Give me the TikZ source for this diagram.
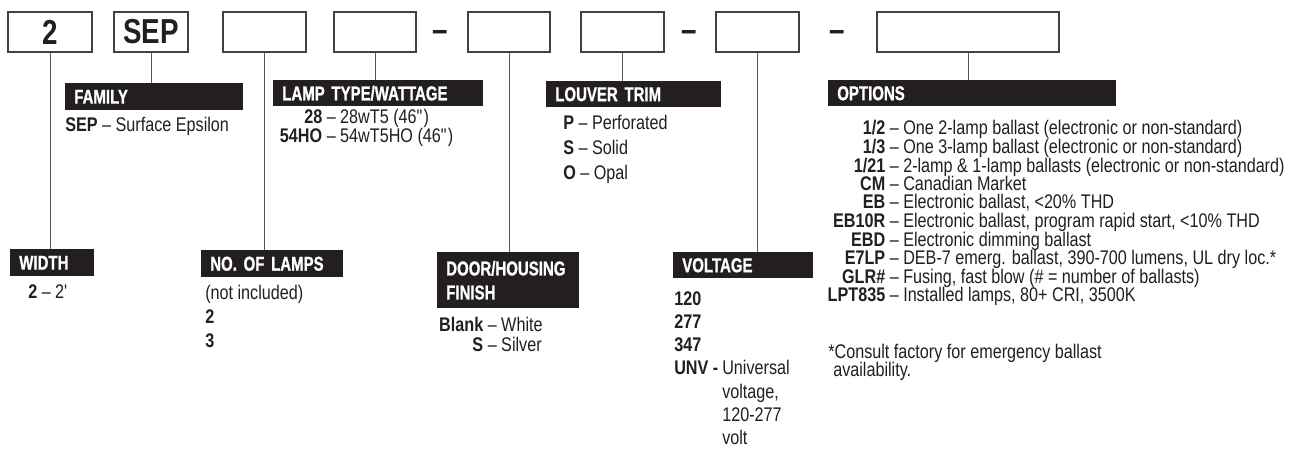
\documentclass[tikz,border=0pt]{standalone}
\usepackage{fontspec}
\setmainfont[FakeStretch=0.82]{Liberation Sans}
\newfontfamily\hdrfont[FakeStretch=0.75,FakeBold=1]{Liberation Sans}
\newfontfamily\bigfont[FakeStretch=0.8]{Liberation Sans}
\definecolor{ink}{HTML}{231F20}
\newcommand\optcode[1]{\makebox[42.75pt][r]{\bfseries #1}}
\begin{document}
\begin{tikzpicture}[x=0.75pt,y=-0.75pt,
  box/.style={draw=ink!85, line width=0.8pt, minimum height=30pt, inner sep=0pt,
    font=\bigfont\bfseries\fontsize{26}{26}\selectfont, text=ink},
  hdr/.style={fill=ink, text=white, anchor=north west, inner xsep=6.75pt, inner ysep=0pt,
    minimum height=19.5pt, align=left, font=\hdrfont\bfseries\fontsize{15}{18}\selectfont},
  txt/.style={anchor=base west, inner sep=0pt, text=ink, font=\fontsize{14.8}{14.8}\selectfont},
  link/.style={draw=ink!75, line width=0.75pt},
  dashmark/.style={anchor=base, inner sep=0pt, text=ink,
    font=\bigfont\bfseries\fontsize{26}{26}\selectfont}]
\fill[white] (0,0) rectangle (1302,449);
\useasboundingbox (0,0) rectangle (1302,449);

% top boxes
\node[box, minimum width=63pt]    (b1) at (50,32)    {2};
\node[box, minimum width=55.5pt]  (b2) at (151,32)   {SEP};
\node[box, minimum width=62.25pt] (b3) at (264.5,32) {};
\node[box, minimum width=61.5pt]  (b4) at (375,32)   {};
\node[dashmark] (d1) at (440.5,42) {–};
\node[box, minimum width=61.5pt]  (b5) at (509,32)   {};
\node[box, minimum width=62.25pt] (b6) at (622.5,32) {};
\node[dashmark] (d2) at (689.5,42) {–};
\node[box, minimum width=62.25pt] (b7) at (757.5,32) {};
\node[dashmark] (d3) at (837.5,42) {–};
\node[box, minimum width=136.5pt] (b8) at (968,32)   {};

% headers
\node[hdr, text width=49.5pt, minimum height=20.25pt] (wid) at (10,249) {WIDTH};
\node[hdr, text width=120pt, minimum height=20.25pt] (fam) at (65,83) {FAMILY};
\node[hdr, text width=93pt, minimum height=20.25pt] (nol) at (201,250) {NO. OF LAMPS};
\node[hdr, text width=144pt] (lam) at (273,80) {LAMP TYPE/WATTAGE};
\node[hdr, text width=93pt, minimum height=42pt] (door) at (437,252) {DOOR/HOUSING\\FINISH};
\node[hdr, text width=117.75pt] (lou) at (546,81) {LOUVER TRIM};
\node[hdr, text width=91.5pt] (vol) at (673,252) {VOLTAGE};
\node[hdr, text width=202.5pt] (opt) at (828,80) {OPTIONS};

% connectors
\draw[link] (b1.south) -- (b1.south |- wid.north);
\draw[link] (b2.south) -- (b2.south |- fam.north);
\draw[link] (b3.south) -- (b3.south |- nol.north);
\draw[link] (b4.south) -- (b4.south |- lam.north);
\draw[link] (b5.south) -- (b5.south |- door.north);
\draw[link] (b6.south) -- (b6.south |- lou.north);
\draw[link] (b7.south) -- (b7.south |- vol.north);
\draw[link] (b8.south) -- (b8.south |- opt.north);

% body texts
\node[txt] (w1) at (28,298) {\textbf{2} – 2\textquotesingle};
\node[txt] (f1) at (65,132) {\textbf{SEP} – Surface Epsilon};
\node[txt] (n1) at (205,299) {(not included)};
\node[txt] (n2) at (205,323) {\textbf{2}};
\node[txt] (n3) at (205,347) {\textbf{3}};
\node[txt] (l1) at (273,124) {\makebox[36.75pt][r]{\bfseries 28} – 28wT5 (46\textquotedbl)};
\node[txt] (l2) at (273,143) {\makebox[36.75pt][r]{\bfseries 54HO} – 54wT5HO (46\textquotedbl)};
\node[txt] (h1) at (442,331) {\makebox[30.75pt][r]{\bfseries Blank} – White};
\node[txt] (h2) at (442,351) {\makebox[30.75pt][r]{\bfseries S} – Silver};
\node[txt] (t1) at (563,130) {\textbf{P} – Perforated};
\node[txt] (t2) at (563,155) {\textbf{S} – Solid};
\node[txt] (t3) at (563,180) {\textbf{O} – Opal};
\node[txt] (v1) at (674,305) {\textbf{120}};
\node[txt] (v2) at (674,328) {\textbf{277}};
\node[txt] (v3) at (674,351) {\textbf{347}};
\node[txt] (v4) at (674,374.5) {\textbf{UNV -}};
\node[txt] (v5) at (722,374.5) {Universal};
\node[txt] (v6) at (722,398) {voltage,};
\node[txt] (v7) at (722,421) {120-277};
\node[txt] (v8) at (722,444) {volt};

\node[txt] (o1)  at (828,135)   {\optcode{1/2} – One 2-lamp ballast (electronic or non-standard)};
\node[txt] (o2)  at (828,153.5) {\optcode{1/3} – One 3-lamp ballast (electronic or non-standard)};
\node[txt] (o3)  at (828,172)   {\optcode{1/21} – 2-lamp \& 1-lamp ballasts (electronic or non-standard)};
\node[txt] (o4)  at (828,190.5) {\optcode{CM} – Canadian Market};
\node[txt] (o5)  at (828,209)   {\optcode{EB} – Electronic ballast, <20\% THD};
\node[txt] (o6)  at (828,227.5) {\optcode{EB10R} – Electronic ballast, program rapid start, <10\% THD};
\node[txt] (o7)  at (828,246)   {\optcode{EBD} – Electronic dimming ballast};
\node[txt] (o8)  at (828,264.5) {\optcode{E7LP} – DEB-7 emerg. ballast, 390-700 lumens, UL dry loc.*};
\node[txt] (o9)  at (828,283)   {\optcode{GLR\#} – Fusing, fast blow (\# = number of ballasts)};
\node[txt] (o10) at (828,301.5) {\optcode{LPT835} – Installed lamps, 80+ CRI, 3500K};
\node[txt] (fn1) at (828,358) {*Consult factory for emergency ballast};
\node[txt] (fn2) at (833,376) {availability.};
\end{tikzpicture}
\end{document}
